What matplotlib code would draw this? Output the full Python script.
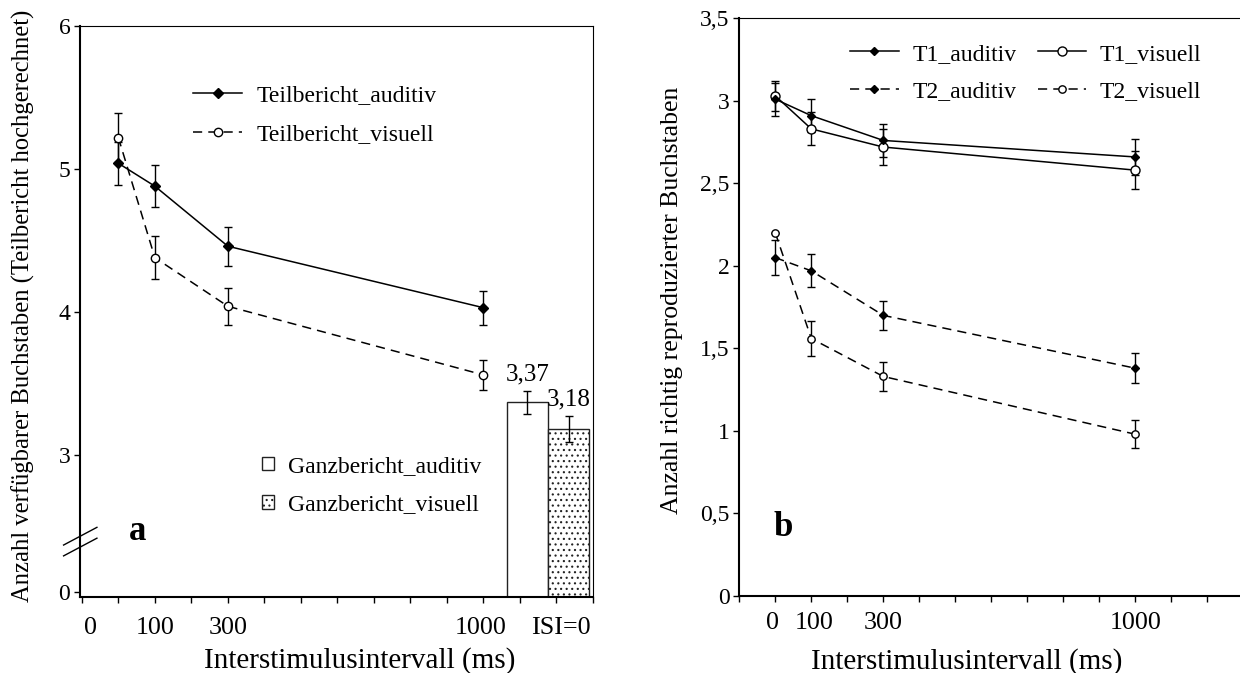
import numpy as np
import matplotlib
matplotlib.use("Agg")
import matplotlib.pyplot as plt
from matplotlib.patches import Patch
from matplotlib.lines import Line2D

plt.rcParams["font.family"] = ["Liberation Serif", "DejaVu Serif"]
plt.rcParams["hatch.linewidth"] = 0.8

# shared x values (ms)
isi = [0, 100, 300, 1000]

# panel a: Teilbericht (partial report, scaled up)
teil_aud = [5.04, 4.88, 4.46, 4.03]
teil_aud_err = [0.15, 0.145, 0.135, 0.12]
teil_vis = [5.22, 4.38, 4.04, 3.56]
teil_vis_err = [0.17, 0.15, 0.13, 0.105]

# panel a: Ganzbericht (whole report, ISI=0)
ganz_labels = ["Ganzbericht_auditiv", "Ganzbericht_visuell"]
ganz_vals = [3.37, 3.18]
ganz_err = [0.08, 0.09]

# panel b
t1_aud = [3.01, 2.91, 2.76, 2.66]
t1_aud_err = [0.10, 0.10, 0.10, 0.11]
t1_vis = [3.03, 2.83, 2.72, 2.58]
t1_vis_err = [0.09, 0.10, 0.11, 0.115]
t2_aud = [2.05, 1.97, 1.70, 1.38]
t2_aud_err = [0.105, 0.10, 0.09, 0.09]
t2_vis = [2.20, 1.56, 1.33, 0.98]
t2_vis_err = [0.0, 0.105, 0.085, 0.085]

W, H = 1240, 673
fig = plt.figure(figsize=(W / 100, H / 100), dpi=100)
DASH = (0, (6, 4))


def px_axes(l, t, r, b):
    return fig.add_axes([l / W, 1 - b / H, (r - l) / W, (b - t) / H])


def style_axes(ax):
    for s in ["left", "bottom"]:
        ax.spines[s].set_linewidth(1.5)
    for s in ["top", "right"]:
        ax.spines[s].set_linewidth(0.8)
    ax.tick_params(axis="both", direction="out", length=4.5, width=1, labelsize=17, pad=2.5)
    ax.set_xlim(-100, 1300)
    ax.set_xticks(np.arange(-100, 1301, 100))
    ax.set_xticklabels([])


def tick_text(ax, x, label, y):
    ax.text(x, y, label, transform=ax.get_xaxis_transform(), ha="center", va="center", fontsize=18.7)


eb = dict(color="black", ecolor="black", elinewidth=1, capsize=2.6, capthick=1, lw=1.1)

# ---------------- panel a ----------------
axa = px_axes(80, 26, 593, 597)
style_axes(axa)
axa.set_xlim(-105, 1300)


def fwd(y):
    y = np.asarray(y, dtype=float)
    return np.where(y >= 3, y, 2.044 + y * 0.956 / 3)


def inv(z):
    z = np.asarray(z, dtype=float)
    return np.where(z >= 3, z, (z - 2.044) * 3 / 0.956)


axa.set_yscale("function", functions=(fwd, inv))
y_floor = -0.116
axa.set_ylim(y_floor, 6)
axa.set_yticks([0, 3, 4, 5, 6])
axa.set_yticklabels(["0", "3", "4", "5", "6"])
axa.minorticks_off()

axa.errorbar(isi, teil_vis, yerr=teil_vis_err, fmt="o", ls=DASH, ms=6,
             mfc="white", mec="black", mew=1, **eb)
axa.errorbar(isi, teil_aud, yerr=teil_aud_err, fmt="D", ls="-", ms=5.5,
             mfc="black", mec="black", **eb)

bar_x = [1120, 1233]
bars = axa.bar(bar_x, np.array(ganz_vals) - y_floor, bottom=y_floor, width=113,
               color="white", edgecolor="#222222", linewidth=1)
bars[1].set_hatch("...")
axa.errorbar(bar_x, ganz_vals, yerr=ganz_err, fmt="none", ecolor="black", elinewidth=1,
             capsize=2.6, capthick=1)
for x, v, e in zip(bar_x, ganz_vals, ganz_err):
    axa.annotate(f"{v:.2f}".replace(".", ","), (x, v + e), xytext=(0, 4),
                 textcoords="offset points", ha="center", va="bottom", fontsize=18)

for x, lab in [(-76, "0"), (102, "100"), (300, "300"), (992, "1000"), (1212, "ISI=0")]:
    tick_text(axa, x, lab, -0.054)

axa.set_xlabel("Interstimulusintervall (ms)", fontsize=21)
axa.xaxis.set_label_coords(0.546, -0.087)
axa.set_ylabel("Anzahl verfügbarer Buchstaben (Teilbericht hochgerechnet)", fontsize=17.7)
axa.yaxis.set_label_coords(-0.111, 0.51)
axa.yaxis.label.set_va("center")

# axis break marks
for dy in (0.0, -0.019):
    axa.plot([-0.032, 0.033], [0.091 + dy, 0.122 + dy], color="black", lw=1,
             transform=axa.transAxes, clip_on=False)

axa.text(0.113, 0.114, "a", transform=axa.transAxes, fontsize=25,
         fontweight="bold", ha="center", va="center")

h1 = [Line2D([], [], color="black", lw=1.1, marker="D", ms=5.5, mfc="black"),
      Line2D([], [], color="black", lw=1.1, ls=DASH, marker="o", ms=6, mfc="white")]
leg1 = axa.legend(h1, ["Teilbericht_auditiv", "Teilbericht_visuell"], loc="upper left",
                  bbox_to_anchor=(0.22, 0.898), frameon=False, fontsize=17, borderpad=0,
                  borderaxespad=0, handlelength=2.1, handletextpad=0.6, labelspacing=0.77)
axa.add_artist(leg1)
h2 = [Patch(facecolor="white", edgecolor="#222222", lw=1),
      Patch(facecolor="white", edgecolor="#222222", lw=1, hatch="...")]
axa.legend(h2, ganz_labels, loc="upper left", bbox_to_anchor=(0.355, 0.247), frameon=False,
           fontsize=17, borderpad=0, borderaxespad=0, handlelength=0.5, handleheight=0.5,
           handletextpad=0.6, labelspacing=0.73)

# ---------------- panel b ----------------
axb = px_axes(739.3, 18.3, 1243.4, 596)
style_axes(axb)
axb.set_ylim(0, 3.5)
yt = np.arange(0, 3.51, 0.5)
axb.set_yticks(yt)
axb.set_yticklabels([f"{v:g}".replace(".", ",") for v in yt])

axb.errorbar(isi, t2_vis, yerr=t2_vis_err, fmt="o", ls=DASH, ms=5.3,
             mfc="white", mec="black", mew=1, **eb)
axb.errorbar(isi, t2_aud, yerr=t2_aud_err, fmt="D", ls=DASH, ms=4.2,
             mfc="black", mec="black", **eb)
axb.errorbar(isi, t1_vis, yerr=t1_vis_err, fmt="o", ls="-", ms=6.5,
             mfc="white", mec="black", mew=1, **eb)
axb.errorbar(isi, t1_aud, yerr=t1_aud_err, fmt="D", ls="-", ms=4.2,
             mfc="black", mec="black", **eb)

for x, lab in [(-8, "0"), (108, "100"), (300, "300"), (1000, "1000")]:
    tick_text(axb, x, lab, -0.047)

axb.set_xlabel("Interstimulusintervall (ms)", fontsize=21)
axb.xaxis.set_label_coords(0.452, -0.090)
axb.set_ylabel("Anzahl richtig reproduzierter Buchstaben", fontsize=18.5)
axb.yaxis.set_label_coords(-0.1335, 0.512)
axb.yaxis.label.set_va("center")

axb.text(0.087, 0.119, "b", transform=axb.transAxes, fontsize=25,
         fontweight="bold", ha="center", va="center")

hb = [Line2D([], [], color="black", lw=1.1, marker="D", ms=4.2, mfc="black"),
      Line2D([], [], color="black", lw=1.1, ls=DASH, marker="D", ms=4.2, mfc="black"),
      Line2D([], [], color="black", lw=1.1, marker="o", ms=6.5, mfc="white"),
      Line2D([], [], color="black", lw=1.1, ls=DASH, marker="o", ms=5.3, mfc="white")]
axb.legend(hb, ["T1_auditiv", "T2_auditiv", "T1_visuell", "T2_visuell"], ncol=2,
           loc="upper left", bbox_to_anchor=(0.22, 0.957), frameon=False, fontsize=17,
           borderpad=0, borderaxespad=0, handlelength=2.05, handletextpad=0.58,
           columnspacing=0.9, labelspacing=0.665)

fig.savefig("out.png", dpi=100)
